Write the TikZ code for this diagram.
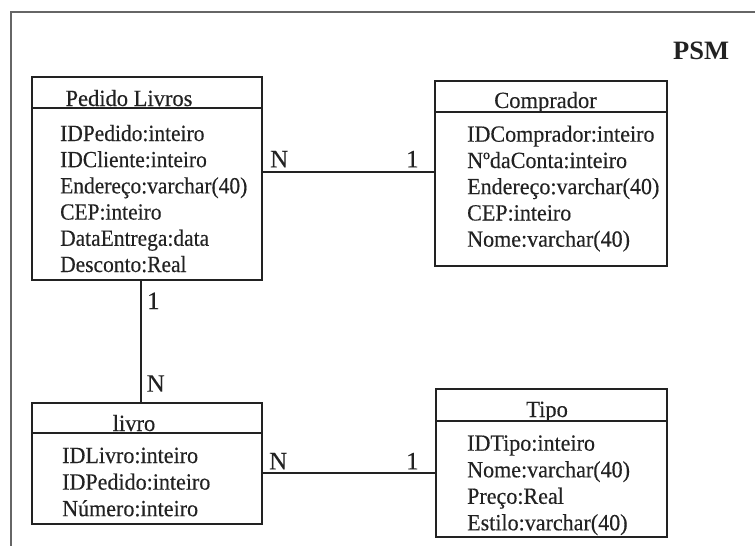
\documentclass[tikz,border=0pt]{standalone}
\usepackage{fontspec}
\setmainfont{Liberation Serif}
\newfontfamily\attrfont{Liberation Serif}[FakeStretch=0.95, FakeBold=0.35]
\newfontfamily\tightfont{Liberation Serif}[FakeStretch=0.925, FakeBold=0.35]
\newfontfamily\headfont{Liberation Serif}[FakeStretch=0.97, FakeBold=0.35]
\newfontfamily\cardfont{Liberation Serif}[FakeBold=0.2]
\definecolor{ink}{HTML}{222222}
\definecolor{framegray}{HTML}{666666}
\begin{document}
\begin{tikzpicture}[x=1pt,y=-1pt,
  ebox/.style={draw=ink, line width=2pt, inner sep=0pt, outer sep=0pt},
  divider/.style={draw=ink, line width=1.4pt},
  link/.style={draw=ink, line width=2pt},
  frameline/.style={draw=framegray, line width=1.5pt},
  head/.style={anchor=base, inner sep=0pt, text=ink, font=\headfont\fontsize{23.2}{25}\selectfont},
  attr/.style={anchor=base west, inner sep=0pt, text=ink, font=\attrfont\fontsize{23.2}{25}\selectfont},
  attrtight/.style={attr, font=\tightfont\fontsize{23.2}{25}\selectfont},
  card/.style={anchor=base west, inner sep=0pt, text=ink, font=\cardfont\fontsize{25}{27}\selectfont},
  title/.style={anchor=base west, inner sep=0pt, text=ink, font=\bfseries\fontsize{26.5}{28}\selectfont}]
\useasboundingbox (0,0) rectangle (755,546);

% outer frame (open on the right and at the bottom)
\draw[frameline] (11,546) -- (11,12) -- (755,12);

\node[title] (psm) at (673,59) {PSM};

% entity boxes
\node[ebox, minimum width=230pt, minimum height=203pt] (pedido) at (147,178.5) {};
\node[ebox, minimum width=232pt, minimum height=185pt] (comprador) at (551,173.5) {};
\node[ebox, minimum width=230pt, minimum height=121pt] (livro) at (147,463.5) {};
\node[ebox, minimum width=231pt, minimum height=148pt] (tipo) at (551.5,463) {};

% header dividers
\draw[divider] (pedido.west |- 0,108) -- (pedido.east |- 0,108);
\draw[divider] (comprador.west |- 0,112) -- (comprador.east |- 0,112);
\draw[divider] (livro.west |- 0,433) -- (livro.east |- 0,433);
\draw[divider] (tipo.west |- 0,421) -- (tipo.east |- 0,421);

% headers
\node[head] (hpedido) at (129,106) {Pedido Livros};
\node[head] (hcomprador) at (545.5,108) {Comprador};
\node[head] (hlivro) at (134,431) {livro};
\node[head] (htipo) at (547,417) {Tipo};

% attributes: Pedido Livros
\node[attrtight] (p1) at (60,141) {IDPedido:inteiro};
\node[attrtight] (p2) at (60,167.2) {IDCliente:inteiro};
\node[attrtight] (p3) at (60,193.4) {Endereço:varchar(40)};
\node[attrtight] (p4) at (60,219.6) {CEP:inteiro};
\node[attrtight] (p5) at (60,245.8) {DataEntrega:data};
\node[attrtight] (p6) at (60,272) {Desconto:Real};

% attributes: Comprador
\node[attr] (c1) at (467,141.7) {IDComprador:inteiro};
\node[attr] (c2) at (467,168) {NºdaConta:inteiro};
\node[attr] (c3) at (467,194.2) {Endereço:varchar(40)};
\node[attr] (c4) at (467,220.5) {CEP:inteiro};
\node[attr] (c5) at (467,246.7) {Nome:varchar(40)};

% attributes: livro
\node[attr] (l1) at (62,463) {IDLivro:inteiro};
\node[attr] (l2) at (62,489.6) {IDPedido:inteiro};
\node[attr] (l3) at (62,516.2) {Número:inteiro};

% attributes: Tipo
\node[attr] (t1) at (467,450.7) {IDTipo:inteiro};
\node[attr] (t2) at (467,477.3) {Nome:varchar(40)};
\node[attr] (t3) at (467,503.8) {Preço:Real};
\node[attr] (t4) at (467,530.3) {Estilo:varchar(40)};

% relationships
\coordinate (rowpc) at (0,172);
\coordinate (colpl) at (141,0);
\coordinate (rowlt) at (0,473);
\draw[link] (pedido.east |- rowpc) -- (comprador.west |- rowpc);
\draw[link] (pedido.south -| colpl) -- (livro.north -| colpl);
\draw[link] (livro.east |- rowlt) -- (tipo.west |- rowlt);

% cardinalities
\node[card] (n1) at (270,167.3) {N};
\node[card] (o1) at (406,167.3) {1};
\node[card] (o2) at (147,309) {1};
\node[card] (n2) at (146.5,391.7) {N};
\node[card] (n3) at (269,469.3) {N};
\node[card] (o3) at (406,469.3) {1};
\end{tikzpicture}
\end{document}
